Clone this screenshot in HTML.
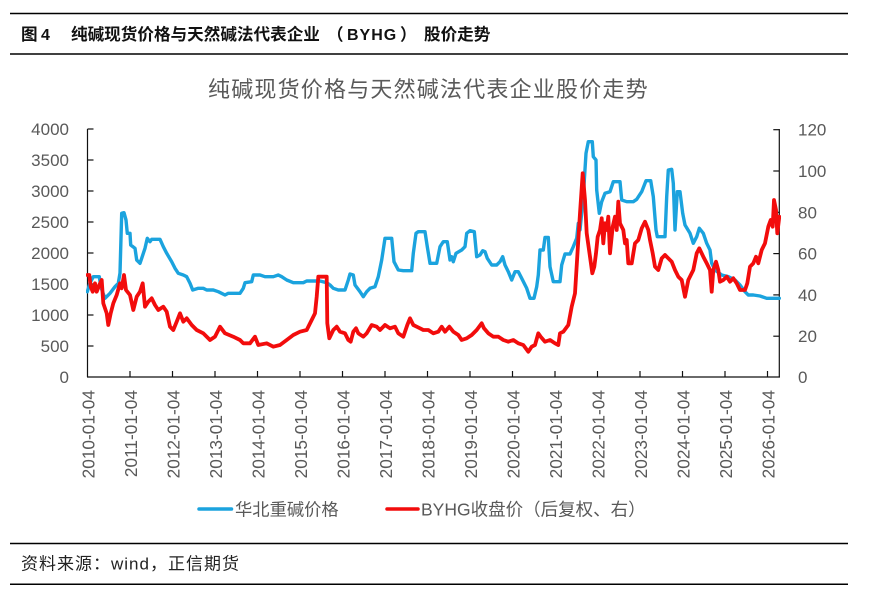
<!DOCTYPE html>
<html>
<head>
<meta charset="utf-8">
<style>
  html,body{margin:0;padding:0;background:#fff;}
  svg{display:block;}
  .cjk{font-family:"Liberation Sans","Noto Sans CJK SC",sans-serif;}
  .lbl{font-family:"Liberation Sans","Noto Sans CJK SC",sans-serif;fill:#595959;}
</style>
</head>
<body>
<svg width="872" height="592" viewBox="0 0 872 592" xmlns="http://www.w3.org/2000/svg">
  <defs>
    <clipPath id="plot"><rect x="86" y="125" width="695" height="253"/></clipPath>
  </defs>
  <rect width="872" height="592" fill="#fff"/>

  <!-- header -->
  <line x1="10" y1="13.5" x2="848" y2="13.5" stroke="#000" stroke-width="1.5"/>
  <line x1="10" y1="54" x2="848" y2="54" stroke="#000" stroke-width="1.5"/>
  <g class="cjk" font-weight="bold" font-size="16.6" fill="#111">
    <text x="21" y="40">图</text>
    <text x="41" y="40" font-size="16">4</text>
    <text x="71" y="40">纯碱现货价格与天然碱法代表企业</text>
    <text x="327" y="40">（</text>
    <text x="347" y="40" font-size="16" letter-spacing="1">BYHG</text>
    <text x="400" y="40">）</text>
    <text x="424" y="40">股价走势</text>
  </g>

  <!-- chart title -->
  <text class="lbl" x="208" y="97" font-size="22" letter-spacing="1.2">纯碱现货价格与天然碱法代表企业股价走势</text>

  <!-- axes -->
  <g stroke="#111" stroke-width="1.2" fill="none">
    <line x1="87.5" y1="129" x2="87.5" y2="377"/>
    <line x1="779.3" y1="129" x2="779.3" y2="377"/>
    <line x1="87" y1="377" x2="780" y2="377"/>
    <line x1="87.5" y1="129" x2="93.5" y2="129"/>
    <line x1="87.5" y1="160" x2="93.5" y2="160"/>
    <line x1="87.5" y1="191" x2="93.5" y2="191"/>
    <line x1="87.5" y1="222" x2="93.5" y2="222"/>
    <line x1="87.5" y1="253" x2="93.5" y2="253"/>
    <line x1="87.5" y1="284" x2="93.5" y2="284"/>
    <line x1="87.5" y1="315" x2="93.5" y2="315"/>
    <line x1="87.5" y1="346" x2="93.5" y2="346"/>
    <line x1="773.3" y1="129.7" x2="779.3" y2="129.7"/>
    <line x1="773.3" y1="171" x2="779.3" y2="171"/>
    <line x1="773.3" y1="212.3" x2="779.3" y2="212.3"/>
    <line x1="773.3" y1="253.6" x2="779.3" y2="253.6"/>
    <line x1="773.3" y1="294.9" x2="779.3" y2="294.9"/>
    <line x1="773.3" y1="336.2" x2="779.3" y2="336.2"/>
    <line x1="130" y1="371" x2="130" y2="377"/>
    <line x1="172.5" y1="371" x2="172.5" y2="377"/>
    <line x1="215" y1="371" x2="215" y2="377"/>
    <line x1="257.5" y1="371" x2="257.5" y2="377"/>
    <line x1="300" y1="371" x2="300" y2="377"/>
    <line x1="342.5" y1="371" x2="342.5" y2="377"/>
    <line x1="385" y1="371" x2="385" y2="377"/>
    <line x1="427.5" y1="371" x2="427.5" y2="377"/>
    <line x1="470" y1="371" x2="470" y2="377"/>
    <line x1="512.5" y1="371" x2="512.5" y2="377"/>
    <line x1="555" y1="371" x2="555" y2="377"/>
    <line x1="597.5" y1="371" x2="597.5" y2="377"/>
    <line x1="640" y1="371" x2="640" y2="377"/>
    <line x1="682.5" y1="371" x2="682.5" y2="377"/>
    <line x1="725" y1="371" x2="725" y2="377"/>
    <line x1="767.5" y1="371" x2="767.5" y2="377"/>
  </g>

  <!-- left labels -->
  <g class="lbl" font-size="17" text-anchor="end">
    <text x="69" y="135">4000</text>
    <text x="69" y="166">3500</text>
    <text x="69" y="197">3000</text>
    <text x="69" y="228">2500</text>
    <text x="69" y="259">2000</text>
    <text x="69" y="290">1500</text>
    <text x="69" y="321">1000</text>
    <text x="69" y="352">500</text>
    <text x="69" y="383">0</text>
  </g>
  <!-- right labels -->
  <g class="lbl" font-size="17">
    <text x="798" y="135.7">120</text>
    <text x="798" y="177">100</text>
    <text x="798" y="218.3">80</text>
    <text x="798" y="259.6">60</text>
    <text x="798" y="300.9">40</text>
    <text x="798" y="342.2">20</text>
    <text x="798" y="383">0</text>
  </g>

  <!-- x labels -->
  <g class="lbl" font-size="17.3" text-anchor="end">
    <text transform="translate(94.5,390) rotate(-90)">2010-01-04</text>
    <text transform="translate(137,390) rotate(-90)">2011-01-04</text>
    <text transform="translate(179.5,390) rotate(-90)">2012-01-04</text>
    <text transform="translate(222,390) rotate(-90)">2013-01-04</text>
    <text transform="translate(264.5,390) rotate(-90)">2014-01-04</text>
    <text transform="translate(307,390) rotate(-90)">2015-01-04</text>
    <text transform="translate(349.5,390) rotate(-90)">2016-01-04</text>
    <text transform="translate(392,390) rotate(-90)">2017-01-04</text>
    <text transform="translate(434.5,390) rotate(-90)">2018-01-04</text>
    <text transform="translate(477,390) rotate(-90)">2019-01-04</text>
    <text transform="translate(519.5,390) rotate(-90)">2020-01-04</text>
    <text transform="translate(562,390) rotate(-90)">2021-01-04</text>
    <text transform="translate(604.5,390) rotate(-90)">2022-01-04</text>
    <text transform="translate(647,390) rotate(-90)">2023-01-04</text>
    <text transform="translate(689.5,390) rotate(-90)">2024-01-04</text>
    <text transform="translate(732,390) rotate(-90)">2025-01-04</text>
    <text transform="translate(774.5,390) rotate(-90)">2026-01-04</text>
  </g>

  <g clip-path="url(#plot)" fill="none" stroke-linejoin="round" stroke-linecap="round">
    <polyline stroke="#1BA3DE" stroke-width="3.4" points="
87.3,291.7 90,283 93.3,276.7 99.3,276.7 100.7,286.7 105,298.3 110,293.3 115,286.7 118.3,283.3 120,273
121.7,213.3 124,212.7 126,220 127.3,233.3 130,233.3 130.7,245 135,248.3 136.7,260 140,263.3 141.7,258.3
145,248.3 147.3,238.3 150,241.7 151.7,239.3 160,239.3 163.3,246.7 166.7,253.3 171.7,261.7 175,268.3 178.3,273.3
183.3,275 186.7,276.7 190,283.3 192.7,290 198.3,288.3 203.3,288.3 206.7,290 213.3,290 218.3,291.7 225,295
228.3,293.3 240,293.3 243.3,288.3 245,282.7 251.7,281.7 253.3,275 260,275 265,276.7 273.3,276.7 278.3,275
281.7,276.7 286.7,280 293.3,282.7 303.3,282.7 306.7,281 320,281 326.7,282.7 330,285 333.3,288.3 338.3,290
345,290 348.3,280 350,274 353.3,275 355,285 360,291.7 363.3,296.7 366.7,291.7 370,288.3 375,286.7
378.3,276.7 381.7,260 385,238.3 391.7,238.3 394,261.7 398.3,270 403.3,270.7 411.7,270.7 413.3,253.3 416,233.3
418.3,231.7 425,231.7 427.3,246.7 430,263.3 436.7,263.3 440,246.7 443.3,241.7 447.3,241.7 450,260 451.7,256.7
453.3,261.7 456,253.3 461.7,250 465,246.7 466.7,233.3 470,230.7 474.3,231.7 476.7,256.7 480,255 482.7,250.7
485,251.7 487.3,258.3 491.7,265 496.7,265 500,261.7 502.7,256.7 505,265 508.3,271.7 511.7,280 515,271.7
518.3,271.7 521.7,278.3 526.7,288.3 530,298.3 534,298.3 536.7,286.7 538.3,275 540,250 543.3,250 545,237.5
548.3,237.5 550,266.7 553.3,281.7 560,281.7 561.7,265 565,254 570,254 573.3,246.7 576.7,238.3 578.3,223.3
580,230 583.3,196.7 586,153.3 588.3,141.7 592.3,141.7 593.3,156.7 596,160 596.7,190 599.3,213.3 601.7,201.7
605,193.3 610,191.7 613.3,181.7 620,181.7 621.7,200 626.7,201.7 633.3,201.7 636.7,199.3 641.7,191.7 646,180.7
650.7,180.7 653.3,196.7 656,230 657.3,236.7 665,236.7 666.7,196.7 668.3,170 671.7,169.3 673.3,183.3 675,230
677.3,191.7 680,191.7 682.7,213.3 685,225 690,233.3 693.3,243.3 696.7,236.7 699.3,228.3 703.3,233.3 706.7,243.3
710,250 711.7,263.3 715,270 721.7,275 728.3,276.7 735,280 740,285 745,291.7 748.3,295 753.3,295
760,296 766.7,298.3 779.3,298.3"/>
    <polyline stroke="#F20C0C" stroke-width="3.8" points="
87.3,275 89.3,275 90.7,286.7 92.7,291.7 95,283.3 96.7,291.7 99.3,285 101.7,280 103.3,303.3 106.7,313.3
108.3,325 110.7,313.3 113.3,303.3 116.7,295 120,283.3 121.7,288.3 124,275 126,290 130,295 133.3,310
136.7,296.7 140,291.7 142.7,283.3 145,306.7 148.3,301.7 151.7,298.3 155,305 158.3,310 163.3,306.7 166.7,311.7
170,326.7 173.3,330 176.7,321.7 180,313.3 183.3,321.7 186.7,318.3 191.7,325 196.7,330 203.3,333.3 210,340
215,336.7 220,326.7 225,333.3 233.3,336.7 240,340 243.3,343.3 250,343.3 255,336.7 258.3,345 266.7,343.3
273.3,346.7 280,345 286.7,340 293.3,335 300,331.7 306.7,330 311.7,320 315,313.3 316.7,296.7 318.3,276.7
326.7,276.7 327.3,323.3 329.3,338.3 333.3,330 336.7,326.7 340,331.7 345,333.3 348.3,340 350.7,341.7 353.3,331.7
356,328.3 358.3,333.3 363.3,336.7 366.7,333.3 371.7,325 376.7,326.7 380,330 385,325 390,328.3 395,326.7
398.3,333.3 403.3,336.7 407.3,325 410,318.3 413.3,325 416.7,326.7 420,328.3 423.3,330 428.3,330 433.3,333.3
438.3,331.7 441.7,326.7 445,331.7 449.3,326.7 453.3,331.7 458.3,335 461.7,340 466.7,338.3 471.7,335 476.7,330
481.7,323.3 484,328.3 488.3,333.3 493.3,336.7 498.3,336.7 503.3,340 508.3,341.7 513.3,340 518.3,343.3 523.3,345
528.3,351.7 531.7,346.7 535,345 538.3,333.3 540.7,336.7 545,341.7 550,340 555,343.3 558.3,345 560,333.3
563.3,331.7 568.3,325 571.7,306.7 575,293.3 578.3,240 580,213.3 582.7,173.3 585,200 586.7,233.3 590,256.7
592.3,273.3 594.3,266.7 596,253.3 597.7,236.7 600,230 601.7,218.3 603.3,243.3 605,223.3 606.7,230 608.3,216.7
610,253.3 612.7,226.7 615,216.7 616.7,230 618.3,201.7 620,223.3 623.3,230 625,243.3 626.7,240 628.3,263.3
631.7,263.3 635,243.3 638.3,240 641.7,228.3 645,221.7 648.3,230 650,240 652.7,253.3 655,266.7 658.3,270
661.7,258.3 665,255 668.3,258.3 671.7,261.7 675,270 678.3,276.7 681.7,280 685,296.7 688.3,280 693.3,270
696.7,253.3 699.3,248.3 703.3,256.7 706.7,263.3 710,270 711.7,291.7 713.3,270 716,261.7 718.3,270 720,281.7
723.3,280 726.7,276.7 730,281.7 733.3,278.3 736.7,283.3 740,290 745,290 747.3,283.3 750,266.7 753.3,263.3
756,256.7 758.3,263.3 761.7,250 765,243.3 768.3,226.7 770.7,220 772.7,226.7 774,200 776,210 777.3,233.3
779.3,216.7"/>
  </g>

  <!-- legend -->
  <line x1="199" y1="509" x2="231.5" y2="509" stroke="#1BA3DE" stroke-width="3.5" stroke-linecap="round"/>
  <text class="lbl" x="235" y="515.5" font-size="17.3">华北重碱价格</text>
  <line x1="387" y1="509" x2="418" y2="509" stroke="#F20C0C" stroke-width="3.5" stroke-linecap="round"/>
  <text class="lbl" x="421" y="515.5" font-size="17.5">BYHG收盘价（后复权、右）</text>

  <!-- footer -->
  <line x1="10" y1="543.5" x2="848" y2="543.5" stroke="#000" stroke-width="1.5"/>
  <line x1="10" y1="584.3" x2="848" y2="584.3" stroke="#000" stroke-width="1.5"/>
  <text class="cjk" x="21" y="569.5" font-size="17" fill="#222" letter-spacing="1">资料来源：wind，正信期货</text>
</svg>
</body>
</html>
